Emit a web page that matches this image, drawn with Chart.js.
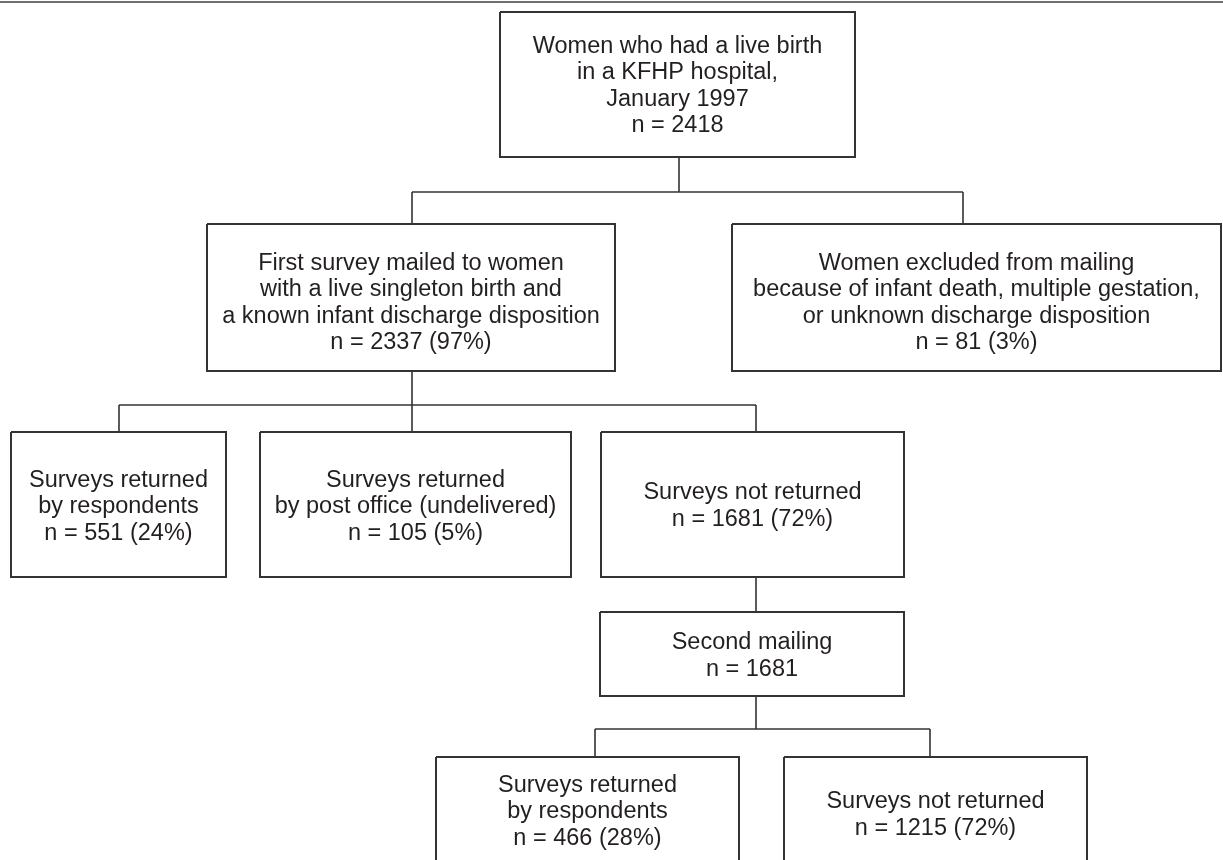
<!DOCTYPE html>
<html>
<head>
<meta charset="utf-8">
<script src="https://cdn.jsdelivr.net/npm/chart.js@4"></script>
<style>
  html, body { margin: 0; padding: 0; background: #fff; }
  canvas { display: block; }
</style>
</head>
<body>
<canvas id="flowCanvas" width="1223" height="860"></canvas>
<script>
// Box texts (one entry per box, lines split by \n)
const boxLabels = [
  'Women who had a live birth\nin a KFHP hospital,\nJanuary 1997\nn = 2418',
  'First survey mailed to women\nwith a live singleton birth and\na known infant discharge disposition\nn = 2337 (97%)',
  'Women excluded from mailing\nbecause of infant death, multiple gestation,\nor unknown discharge disposition\nn = 81 (3%)',
  'Surveys returned\nby respondents\nn = 551 (24%)',
  'Surveys returned\nby post office (undelivered)\nn = 105 (5%)',
  'Surveys not returned\nn = 1681 (72%)',
  'Second mailing\nn = 1681',
  'Surveys returned\nby respondents\nn = 466 (28%)',
  'Surveys not returned\nn = 1215 (72%)',
];

// Box extents in chart units (the chart uses a 0..1223 x 0..860 grid)
const boxLeft   = [500, 207, 732,  11, 260, 601, 600, 436, 784];
const boxRight  = [855, 615, 1221, 226, 571, 904, 904, 739, 1087];
const boxTop    = [ 12, 224, 224, 432, 432, 432, 612, 757, 757];
const boxBottom = [157, 371, 371, 577, 577, 577, 696, 868, 868];
// where connectors meet each box
const linkX     = [679, 412, 963, 119, 412, 756, 756, 595, 930];
// vertical centre of each text block
const textMidY  = [ 86, 303, 303, 507, 507, 506, 656, 812, 815];

// tree: parent box -> child boxes, with the y of the horizontal bus
const branchParent   = [0, 1, 5, 6];
const branchChildren = [[1, 2], [3, 4, 5], [6], [7, 8]];
const branchBusY     = [192, 405, null, 729];

const LINE_COLOR = '#333333';
const TEXT_COLOR = '#231f20';

function boxDataset(i) {
  return {
    data: [
      { x: boxLeft[i], y: boxTop[i] },
      { x: boxRight[i], y: boxTop[i] },
      { x: boxRight[i], y: boxBottom[i] },
      { x: boxLeft[i], y: boxBottom[i] },
      { x: boxLeft[i], y: boxTop[i] },
    ],
    showLine: true,
    borderColor: LINE_COLOR,
    borderWidth: 2,
    pointRadius: 0,
    fill: false,
    tension: 0,
  };
}

function segment(points, color, width) {
  return {
    data: points,
    showLine: true,
    borderColor: color || LINE_COLOR,
    borderWidth: width || 1.6,
    pointRadius: 0,
    fill: false,
    tension: 0,
  };
}

const datasets = [];
boxLabels.forEach((_, i) => datasets.push(boxDataset(i)));

branchParent.forEach((p, k) => {
  const kids = branchChildren[k];
  const bus = branchBusY[k];
  if (bus === null) {
    // straight drop to the single child
    datasets.push(segment([{ x: linkX[p], y: boxBottom[p] }, { x: linkX[p], y: boxTop[kids[0]] }]));
    return;
  }
  datasets.push(segment([{ x: linkX[p], y: boxBottom[p] }, { x: linkX[p], y: bus }]));
  const xs = kids.map((c) => linkX[c]);
  datasets.push(segment([{ x: Math.min(...xs), y: bus }, { x: Math.max(...xs), y: bus }]));
  kids.forEach((c) => {
    datasets.push(segment([{ x: linkX[c], y: bus }, { x: linkX[c], y: boxTop[c] }]));
  });
});

// thin rule across the top of the figure
datasets.push(segment([{ x: 0, y: 2 }, { x: 1223, y: 2 }], '#6e6e6e', 2));

// Draw box texts centred in each box
const boxTextPlugin = {
  id: 'boxText',
  afterDatasetsDraw(chart) {
    const { ctx, scales } = chart;
    const lineH = 26.5;
    ctx.save();
    ctx.fillStyle = TEXT_COLOR;
    ctx.font = '23.5px "Liberation Sans", Arial, sans-serif';
    ctx.textAlign = 'center';
    ctx.textBaseline = 'middle';
    boxLabels.forEach((label, i) => {
      const lines = label.split('\n');
      const cx = scales.x.getPixelForValue((boxLeft[i] + boxRight[i]) / 2);
      const cy = scales.y.getPixelForValue(textMidY[i]);
      const y0 = cy - ((lines.length - 1) * lineH) / 2;
      lines.forEach((ln, j) => ctx.fillText(ln, cx, y0 + j * lineH));
    });
    ctx.restore();
  },
};

new Chart(document.getElementById('flowCanvas'), {
  type: 'scatter',
  data: { datasets },
  options: {
    responsive: false,
    animation: false,
    layout: { padding: 0 },
    plugins: { legend: { display: false }, tooltip: { enabled: false } },
    scales: {
      x: { type: 'linear', min: 0, max: 1223, display: false },
      y: { type: 'linear', min: 0, max: 860, reverse: true, display: false },
    },
  },
  plugins: [boxTextPlugin],
});
</script>
</body>
</html>
